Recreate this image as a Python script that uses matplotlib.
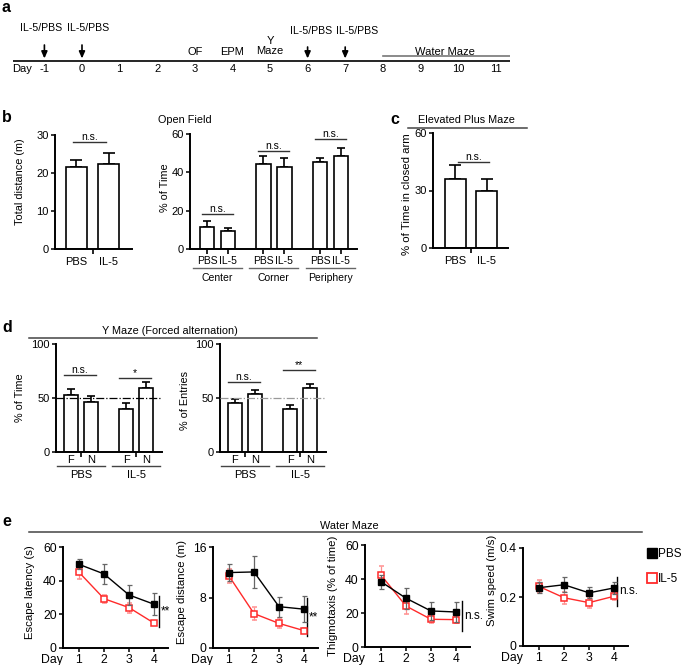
import matplotlib
matplotlib.use('Agg')
import matplotlib.pyplot as plt
from matplotlib.lines import Line2D
import numpy as np

plt.rcParams['font.family'] = ['Liberation Sans', 'DejaVu Sans']
plt.rcParams['font.size'] = 8

# ---------------- data ----------------
timeline_days = list(range(-1, 12))
injection_days = [-1, 0, 6, 7]
injection_label = 'IL-5/PBS'
test_days = [3, 4, 5]
test_labels = ['OF', 'EPM', 'Y\nMaze']
water_maze_start = 8

groups = ['PBS', 'IL-5']
total_distance = [21.5, 22.3]
total_distance_err = [1.8, 3.0]

of_regions = ['Center', 'Corner', 'Periphery']
of_pbs = [11.5, 44.3, 45.4]
of_pbs_err = [3.1, 4.2, 2.1]
of_il5 = [9.4, 42.8, 48.5]
of_il5_err = [1.6, 4.7, 4.2]

epm = [36.0, 29.7]
epm_err = [7.3, 6.3]

arms = ['F', 'N']
ym_time_pbs = [53.0, 46.5]
ym_time_pbs_err = [5.5, 5.5]
ym_time_il5 = [40.0, 59.5]
ym_time_il5_err = [5.5, 5.5]
ym_ent_pbs = [45.5, 54.0]
ym_ent_pbs_err = [3.5, 3.5]
ym_ent_il5 = [40.0, 59.5]
ym_ent_il5_err = [3.5, 3.5]

days = [1, 2, 3, 4]
lat_pbs = [49.7, 44.0, 31.5, 26.0]
lat_pbs_err = [3.0, 6.0, 6.0, 6.4]
lat_il5 = [45.0, 29.3, 24.0, 14.8]
lat_il5_err = [4.3, 2.3, 3.0, 1.4]
dist_pbs = [11.95, 12.05, 6.55, 6.15]
dist_pbs_err = [1.4, 2.6, 1.6, 2.1]
dist_il5 = [11.4, 5.45, 3.9, 2.75]
dist_il5_err = [1.1, 1.0, 0.8, 0.35]
thig_pbs = [38.4, 28.7, 21.2, 20.6]
thig_pbs_err = [4.1, 6.1, 5.4, 5.7]
thig_il5 = [42.3, 24.1, 16.3, 16.1]
thig_il5_err = [5.4, 4.9, 2.4, 2.0]
speed_pbs = [0.238, 0.250, 0.217, 0.237]
speed_pbs_err = [0.022, 0.030, 0.022, 0.025]
speed_il5 = [0.243, 0.197, 0.177, 0.203]
speed_il5_err = [0.025, 0.025, 0.020, 0.015]

# significance brackets (y level) and labels
td_sig = (28.2, 'n.s.')
of_sig = [(18.3, 'n.s.'), (51.0, 'n.s.'), (57.4, 'n.s.')]
epm_sig = (44.9, 'n.s.')
ym_time_sig = [(71.0, 'n.s.'), (68.5, '*')]
ym_ent_sig = [(65.0, 'n.s.'), (76.0, '**')]
wm_sig = [((12.3, 30.9), '**'), ((1.9, 7.9), '**'), ((9.4, 27.3), 'n.s.'), ((0.163, 0.283), 'n.s.')]

RED = '#ff2a2a'
W, H = 685, 665
fig = plt.figure(figsize=(6.85, 6.65), dpi=100)


def px(x):
    return x / W


def py(y):
    return 1 - y / H


def add_ax(l, r, t, b):
    return fig.add_axes([l / W, 1 - b / H, (r - l) / W, (b - t) / H])


def style(ax):
    for s in ['top', 'right']:
        ax.spines[s].set_visible(False)
    for s in ['left', 'bottom']:
        ax.spines[s].set_linewidth(1.4)
    ax.tick_params(direction='out', length=3, width=1.1, pad=1.5, labelsize=8)
    ax.tick_params(which='minor', direction='out', length=3.5, width=1.2)


def ylabel(ax, text, xpx, ypx, size=7.8):
    ax.set_ylabel(text, fontsize=size)
    ax.yaxis.set_label_coords(px(xpx), py(ypx), transform=fig.transFigure)


def bars(ax, xs, vals, errs, width, capsize):
    ax.bar(xs, vals, width, color='white', edgecolor='black', linewidth=1.2, zorder=2)
    ax.errorbar(xs, vals, yerr=[np.zeros(len(vals)), errs], fmt='none', ecolor='black',
                capsize=capsize, elinewidth=1.2, capthick=1.2, zorder=1)


def sig(ax, x1, x2, y, text, size=7.5):
    ax.plot([x1, x2], [y, y], color='#333', lw=1, clip_on=False)
    ax.text((x1 + x2) / 2, y, text, ha='center', va='bottom', fontsize=size)


def title_line(text, x1, x2, yline, ytext, xtext):
    fig.add_artist(Line2D([px(x1), px(x2)], [py(yline), py(yline)], color='#444', lw=1.1))
    fig.text(px(xtext), py(ytext), text, ha='center', va='center', fontsize=7.8)


def letter(t, x, y):
    fig.text(px(x), py(y), t, ha='left', va='center', fontsize=11.5, fontweight='bold')


# ---------------- panel a ----------------
axa = add_ax(13, 510, 20, 80)
axa.set_xlim(-1.835, 11.383)
axa.set_ylim(80, 20)
axa.axis('off')
axa.axhline(61, color='black', lw=1.2)
for d in timeline_days:
    axa.text(d, 69, str(d), ha='center', va='center', fontsize=8)
axa.text(-1.6, 69, 'Day', ha='center', va='center', fontsize=8)
lab_off = [-0.08, 0.15, 0.09, 0.31]
lab_y = [28, 28, 31, 31]
arr_top = [45, 45, 47, 47]
for d, o, ly, at in zip(injection_days, lab_off, lab_y, arr_top):
    axa.annotate('', xy=(d, 58.5), xytext=(d, at),
                 arrowprops=dict(arrowstyle='-|>,head_width=0.22,head_length=0.5',
                                 color='black', lw=1.2, shrinkA=0, shrinkB=0))
    axa.text(d + o, ly, injection_label, ha='center', va='center', fontsize=7.6)
for d, t in zip(test_days, test_labels):
    axa.text(d, 55.5 if '\n' in t else 52, t, ha='center',
             va='bottom' if '\n' in t else 'center', fontsize=8, linespacing=1.0)
axa.plot([water_maze_start, 11.383], [56, 56], color='#777', lw=1.2)
axa.text(9.65, 52, 'Water Maze', ha='center', va='center', fontsize=8)

# ---------------- panel b ----------------
axb1 = add_ax(55, 132, 135, 249)
style(axb1)
xb = [0, 1]
bars(axb1, xb, total_distance, total_distance_err, 0.65, 4)
axb1.set_xlim(-0.66, 1.71)
axb1.set_ylim(0, 30)
axb1.set_yticks([0, 10, 20, 30])
axb1.set_xticks(xb)
axb1.set_xticklabels(groups)
axb1.tick_params(axis='x', length=0, pad=6)
axb1.set_xticks([0.5], minor=True)
sig(axb1, -0.1, 0.9, td_sig[0], td_sig[1])
ylabel(axb1, 'Total distance (m)', 25, 182)

axb2 = add_ax(190, 357, 134, 249)
style(axb2)
centers = [0.5, 3.17, 5.88]
xp = [c - 0.5 for c in centers]
xi = [c + 0.5 for c in centers]
bars(axb2, xp, of_pbs, of_pbs_err, 0.71, 3)
bars(axb2, xi, of_il5, of_il5_err, 0.71, 3)
axb2.set_xlim(-0.81, 7.14)
axb2.set_ylim(0, 60)
axb2.set_yticks([0, 20, 40, 60])
allx = sorted(xp + xi)
axb2.set_xticks(allx)
axb2.set_xticklabels(groups * 3)
axb2.tick_params(axis='x', length=3.5, width=1.2, pad=1.5, labelsize=7.5)
tr = axb2.get_xaxis_transform()
for c, name, (yy, t) in zip(centers, of_regions, of_sig):
    axb2.plot([c - 1.17, c + 1.17], [-0.165, -0.165], transform=tr, color='#666', lw=1, clip_on=False)
    axb2.text(c, -0.255, name, transform=tr, ha='center', va='center', fontsize=7.5)
    sig(axb2, c - 0.75, c + 0.75, yy, t)
ylabel(axb2, '% of Time', 170, 188)
fig.text(px(185), py(120), 'Open Field', ha='center', va='center', fontsize=7.8)

# ---------------- panel c ----------------
axc = add_ax(433, 508, 133, 248)
style(axc)
bars(axc, xb, epm, epm_err, 0.67, 4)
axc.set_xlim(-0.71, 1.67)
axc.set_ylim(0, 60)
axc.set_yticks([0, 30, 60])
axc.set_xticks(xb)
axc.set_xticklabels(groups)
axc.tick_params(axis='x', length=0, pad=6)
axc.set_xticks([0.5], minor=True)
sig(axc, 0.08, 1.06, epm_sig[0], epm_sig[1])
ylabel(axc, '% of Time in closed arm', 412, 194, 8.2)
title_line('Elevated Plus Maze', 408, 527, 128, 120, 466)

# ---------------- panel d ----------------
ym_x_pbs = [0, 1]
ym_x_il5 = [2.75, 3.75]
ym_groups_c = [0.5, 3.25]


def ymaze(ax, pbs, pbs_e, il5, il5_e, sigs, lab, ycenter, xlab, dashcol):
    style(ax)
    bars(ax, ym_x_pbs, pbs, pbs_e, 0.66, 3)
    bars(ax, ym_x_il5, il5, il5_e, 0.66, 3)
    ax.axhline(50, ls='-.', lw=0.9, color=dashcol, zorder=3)
    ax.set_xlim(-0.75, 4.55)
    ax.set_ylim(0, 100)
    ax.set_yticks([0, 50, 100])
    ax.set_xticks(ym_x_pbs + ym_x_il5)
    ax.set_xticklabels(arms * 2)
    ax.tick_params(axis='x', length=0, pad=2.5)
    ax.set_xticks(ym_groups_c, minor=True)
    trd = ax.get_xaxis_transform()
    for c, g, (yy, t), xs in zip(ym_groups_c, groups, sigs, [ym_x_pbs, ym_x_il5]):
        ax.plot([c - 1.2, c + 1.2], [-0.13, -0.13], transform=trd, color='#444', lw=1, clip_on=False)
        ax.text(c, -0.215, g, transform=trd, ha='center', va='center', fontsize=8)
        sig(ax, xs[0] - 0.35, xs[1] + 0.25, yy, t)
    ylabel(ax, lab, xlab, ycenter)


axd1 = add_ax(56, 162, 344, 452)
ymaze(axd1, ym_time_pbs, ym_time_pbs_err, ym_time_il5, ym_time_il5_err, ym_time_sig,
      '% of Time', 398, 25, 'black')
axd2 = add_ax(220, 326, 344, 452)
ymaze(axd2, ym_ent_pbs, ym_ent_pbs_err, ym_ent_il5, ym_ent_il5_err, ym_ent_sig,
      '% of Entries', 400, 190, '#999')
title_line('Y Maze (Forced alternation)', 29, 317, 338, 331, 170)

# ---------------- panel e ----------------
def wm(ax, pbs, pbs_e, il5, il5_e, ylim, yt, ytl, s, lab, xlab, ylc, sigx):
    style(ax)
    ax.errorbar(days, il5, yerr=il5_e, color=RED, marker='s', mfc='white', mec=RED,
                ms=4.5, mew=1.1, lw=1, capsize=1.8, elinewidth=0.9, capthick=0.9,
                ecolor='#ff9090', zorder=3)
    ax.errorbar(days, pbs, yerr=pbs_e, color='black', marker='s', mfc='black', mec='black',
                ms=4.5, lw=1, capsize=1.8, elinewidth=0.9, capthick=0.9,
                ecolor='#666', zorder=4)
    ax.set_xlim(0.36, 4.56)
    ax.set_ylim(*ylim)
    ax.set_yticks(yt)
    ax.set_yticklabels(ytl)
    ax.set_xticks(days)
    ax.tick_params(axis='both', labelsize=8.8)
    ax.annotate('Day', xy=(0, 0), xycoords='axes fraction', xytext=(0, -4.5),
                textcoords='offset points', ha='right', va='top', fontsize=8.8)
    (y1, y2), t = s
    ax.plot([sigx, sigx], [y1, y2], color='black', lw=1, clip_on=False)
    ax.text(sigx + 0.07, (y1 + y2) / 2, t, ha='left', va='center', fontsize=8.5)
    ylabel(ax, lab, xlab, ylc, 8.2)


axe1 = add_ax(63, 168, 547, 648)
wm(axe1, lat_pbs, lat_pbs_err, lat_il5, lat_il5_err, (0, 60), [0, 20, 40, 60],
   ['0', '20', '40', '60'], wm_sig[0], 'Escape latency (s)', 35, 592, 4.2)
axe2 = add_ax(213, 318, 547, 648)
wm(axe2, dist_pbs, dist_pbs_err, dist_il5, dist_il5_err, (0, 16), [0, 8, 16],
   ['0', '8', '16'], wm_sig[1], 'Escape distance (m)', 187, 592, 4.12)
axe3 = add_ax(365, 470, 545, 647)
wm(axe3, thig_pbs, thig_pbs_err, thig_il5, thig_il5_err, (0, 60), [0, 20, 40, 60],
   ['0', '20', '40', '60'], wm_sig[2], 'Thigmotaxis (% of time)', 338, 596, 4.24)
axe4 = add_ax(523, 628, 548, 646)
wm(axe4, speed_pbs, speed_pbs_err, speed_il5, speed_il5_err, (0, 0.4), [0, 0.2, 0.4],
   ['0', '0.2', '0.4'], wm_sig[3], 'Swim speed (m/s)', 497, 580, 4.12)
title_line('Water Maze', 29, 642, 532, 526, 349)

handles = [Line2D([], [], ls='none', marker='s', ms=6.5, mfc='black', mec='black'),
           Line2D([], [], ls='none', marker='s', ms=6.5, mfc='white', mec=RED, mew=1.3)]
fig.legend(handles, groups, loc='upper left', bbox_to_anchor=(px(648), py(548)),
           frameon=False, handlelength=0.7, handletextpad=0.15, labelspacing=1.1,
           fontsize=8.5, borderpad=0, borderaxespad=0)

letter('a', 2, 8)
letter('b', 2, 118)
letter('c', 390, 119)
letter('d', 2, 327)
letter('e', 2, 522)

fig.savefig('out.png', dpi=100)
